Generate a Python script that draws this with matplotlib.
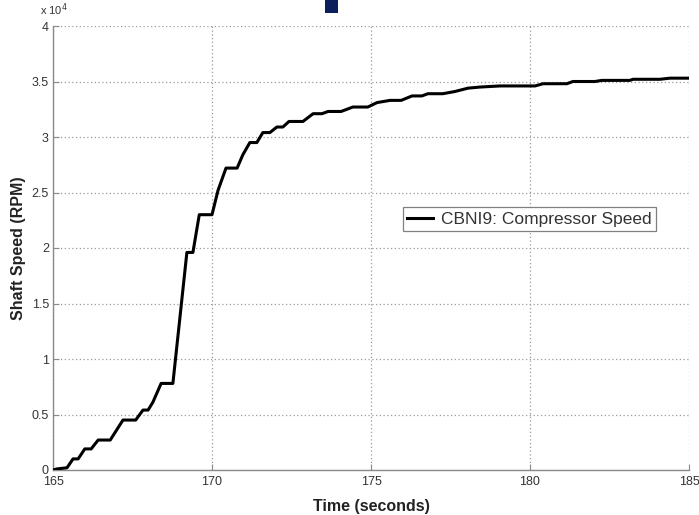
import matplotlib
matplotlib.use("Agg")
import matplotlib.pyplot as plt
from matplotlib.ticker import FuncFormatter
from matplotlib.patches import Rectangle

plt.rcParams['font.family'] = ['Liberation Sans', 'DejaVu Sans']

time_s = [165.0, 165.13, 165.44, 165.63, 165.79, 166.0, 166.2, 166.42, 166.8, 167.2,
          167.6, 167.83, 167.99, 168.14, 168.4, 168.77, 169.21, 169.40, 169.6, 170.0,
          170.19, 170.44, 170.79, 170.97, 171.19, 171.41, 171.6, 171.82, 172.04, 172.23,
          172.42, 172.86, 173.18, 173.46, 173.65, 174.06, 174.43, 174.9, 175.19, 175.6,
          175.95, 176.29, 176.6, 176.79, 177.26, 177.64, 178.05, 178.43, 179.06, 179.47,
          180.16, 180.41, 181.16, 181.35, 182.04, 182.26, 183.14, 183.24, 184.09, 184.4,
          185.0]
speed_rpm = [0, 100, 200, 1000, 1000, 1900, 1900, 2700, 2700, 4500,
             4500, 5400, 5400, 6100, 7800, 7800, 19600, 19600, 23000, 23000,
             25200, 27200, 27200, 28400, 29500, 29500, 30400, 30400, 30900, 30900,
             31400, 31400, 32100, 32100, 32300, 32300, 32700, 32700, 33100, 33300,
             33300, 33700, 33700, 33900, 33900, 34100, 34400, 34500, 34600, 34600,
             34600, 34800, 34800, 35000, 35000, 35100, 35100, 35200, 35200, 35300,
             35300]
series_label = "CBNI9: Compressor Speed"
x_ticks = [165, 170, 175, 180, 185]
y_ticks = [0, 5000, 10000, 15000, 20000, 25000, 30000, 35000, 40000]

fig = plt.figure(figsize=(6.99, 5.15), dpi=100)
ax = fig.add_axes([53/699, 45/515, 636/699, 444/515])

ax.plot(time_s, speed_rpm, color='black', lw=2.2, label=series_label, zorder=3)

ax.set_xlim(165, 185)
ax.set_ylim(0, 40000)
ax.set_xticks(x_ticks)
ax.set_yticks(y_ticks)
ax.yaxis.set_major_formatter(FuncFormatter(lambda v, p: '%g' % (v / 1e4)))

ax.grid(True, color='#9a9a9a', linestyle=(0, (1, 2)), linewidth=0.9)
for s in ['top', 'right']:
    ax.spines[s].set_visible(False)
for s in ['left', 'bottom']:
    ax.spines[s].set_color('#8a8a8a')
    ax.spines[s].set_linewidth(1.0)
ax.tick_params(direction='in', length=4, color='#8a8a8a', labelsize=9,
               labelcolor='#333333')
ax.tick_params(axis='x', pad=4.5)
ax.tick_params(axis='y', pad=3)

ax.set_xlabel('Time (seconds)', fontsize=11.5, fontweight='bold', color='#222222', labelpad=8)
ax.set_ylabel('Shaft Speed (RPM)', fontsize=11.5, fontweight='bold', color='#222222', labelpad=4)

ax.text(-0.021, 1.017, r'x 10$^{4}$', transform=ax.transAxes, fontsize=8, color='#333333',
        ha='left', va='bottom')

leg = ax.legend(loc='upper left', bbox_to_anchor=(0.550, 0.592), borderaxespad=0,
                fontsize=12.5, handlelength=1.5, handletextpad=0.45, borderpad=0.25,
                fancybox=False, framealpha=1, edgecolor='#808080')
leg.get_frame().set_linewidth(0.9)
for t in leg.get_texts():
    t.set_color('#333333')

fig.patches.append(Rectangle((325/699, 1 - 13/515), 13/699, 13/515, transform=fig.transFigure,
                             facecolor='#0b1f5c', edgecolor='none'))

fig.savefig('out.png', dpi=100)
